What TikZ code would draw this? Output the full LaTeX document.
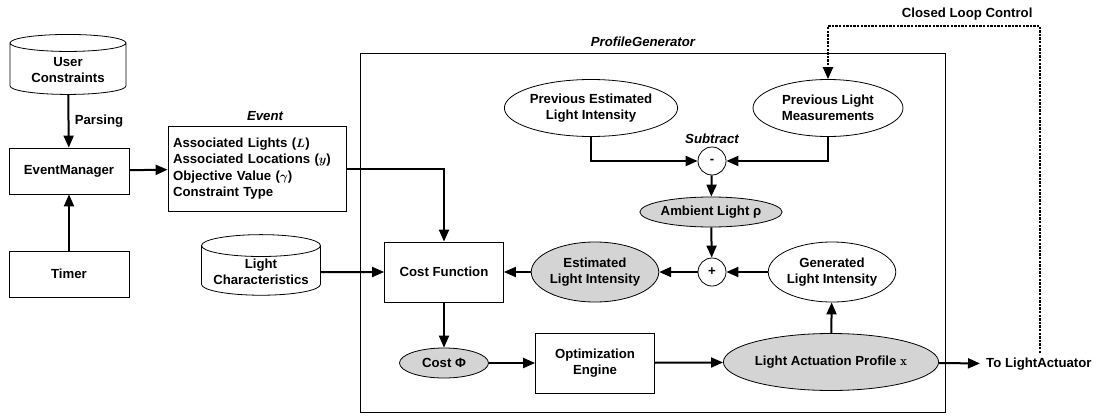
\documentclass[tikz,border=0pt]{standalone}
\usepackage{fontspec}
\usepackage{bm}
\setmainfont{Liberation Sans}
\usetikzlibrary{arrows.meta,shapes.geometric}
\definecolor{fillgray}{RGB}{212,212,212}
\begin{document}
\begin{tikzpicture}[x=1pt,y=-1pt,
  font=\fontsize{13.2}{16.5}\selectfont\bfseries,
  box/.style={draw,line width=0.8pt,minimum width=119pt,minimum height=60pt,align=center,inner sep=2pt},
  ell/.style={draw,ellipse,line width=0.8pt,align=center,inner sep=0pt},
  grayell/.style={ell,fill=fillgray},
  op/.style={draw,circle,line width=0.8pt,minimum size=28pt,inner sep=0pt},
  cyl/.style={draw,cylinder,shape border rotate=90,aspect=0.22,line width=0.8pt,align=center,minimum width=119pt,minimum height=60pt,inner sep=2pt},
  title/.style={font=\fontsize{13.2}{16.5}\selectfont\bfseries\itshape},
  arr/.style={-{Triangle[length=12pt,width=10pt]},line width=2pt},
  fbline/.style={-{Triangle[length=12pt,width=10pt]},line width=2.2pt,dash pattern=on 2.4pt off 1.2pt}]
\useasboundingbox (0,0) rectangle (1100,415);

\node[cyl,minimum width=116pt] (user) at (68,70) {User\\Constraints};
\node[box,minimum width=120pt,minimum height=46pt] (evman) at (69,171) {EventManager};
\node[box,minimum width=120pt,minimum height=46pt] (timer) at (69,274) {Timer};
\node[box,minimum width=178pt,minimum height=85pt,text width=168pt,align=left,inner xsep=5pt,inner ysep=6pt] (event) at (257,168.5)
  {Associated Lights ($\bm{L}$)\\Associated Locations ($\bm{y}$)\\Objective Value ($\bm{\gamma}$)\\Constraint Type};
\node[title] (eventlbl) at (265,116) {Event};
\node[cyl] (lightchar) at (261,272) {Light\\Characteristics};

\node[draw,line width=0.6pt,minimum width=585pt,minimum height=359pt] (pg) at (652.5,232.5) {};
\node[title] (pglbl) at (643,42) {ProfileGenerator};

\node[ell,minimum width=148pt,minimum height=57pt] (prevest) at (591,108) {Previous Estimated\\Light Intensity};
\node[ell,minimum width=150pt,minimum height=57pt] (prevmeas) at (828,108) {Previous Light\\Measurements};
\node[op] (minus) at (712,161) {-};
\node[title] (sublbl) at (712,139) {Subtract};
\node[grayell,minimum width=132pt,minimum height=30pt] (ambient) at (711,212) {Ambient Light ρ};
\node[op] (plus) at (712,272) {+};
\node[grayell,minimum width=118pt,minimum height=60pt] (estimated) at (595,272) {Estimated\\Light Intensity};
\node[ell,minimum width=119pt,minimum height=60pt] (generated) at (832,272) {Generated\\Light Intensity};
\node[box] (cost) at (444,272) {Cost Function};
\node[grayell,minimum width=89pt,minimum height=30pt] (costphi) at (444,363) {Cost Φ};
\node[box] (optim) at (595,363) {Optimization\\Engine};
\node[grayell,minimum width=178pt,minimum height=57pt] (profile) at (831,362) {Light Actuation Profile {\fontfamily{lmr}\selectfont\bfseries x}};
\node[anchor=west,inner sep=6pt] (toact) at (980,364) {To LightActuator};
\node[anchor=east] (looplbl) at (1036,14) {Closed Loop Control};
\coordinate (loopbot) at (1040,353);
\coordinate (looptop) at (1040,26);

\draw[arr] (user) -- (evman) node[midway,right=2pt] {Parsing};
\draw[arr] (timer) -- (evman);
\draw[arr] (evman) -- (event);
\draw[arr] (event.east) -| (cost.north);
\draw[arr] (lightchar) -- (cost);
\draw[arr] (estimated) -- (cost);
\draw[arr] (plus) -- (estimated);
\draw[arr] (generated) -- (plus);
\draw[arr] (ambient) -- (plus);
\draw[arr] (minus) -- (ambient);
\draw[arr] (prevest.south) |- (minus);
\draw[arr] (prevmeas.south) |- (minus);
\draw[arr] (cost) -- (costphi);
\draw[arr] (costphi) -- (optim);
\draw[arr] (optim) -- (profile);
\draw[arr] (profile) -- (generated);
\draw[arr] (profile) -- (toact);
\draw[fbline] (loopbot) -- (looptop) -| (prevmeas.north);
\end{tikzpicture}
\end{document}
